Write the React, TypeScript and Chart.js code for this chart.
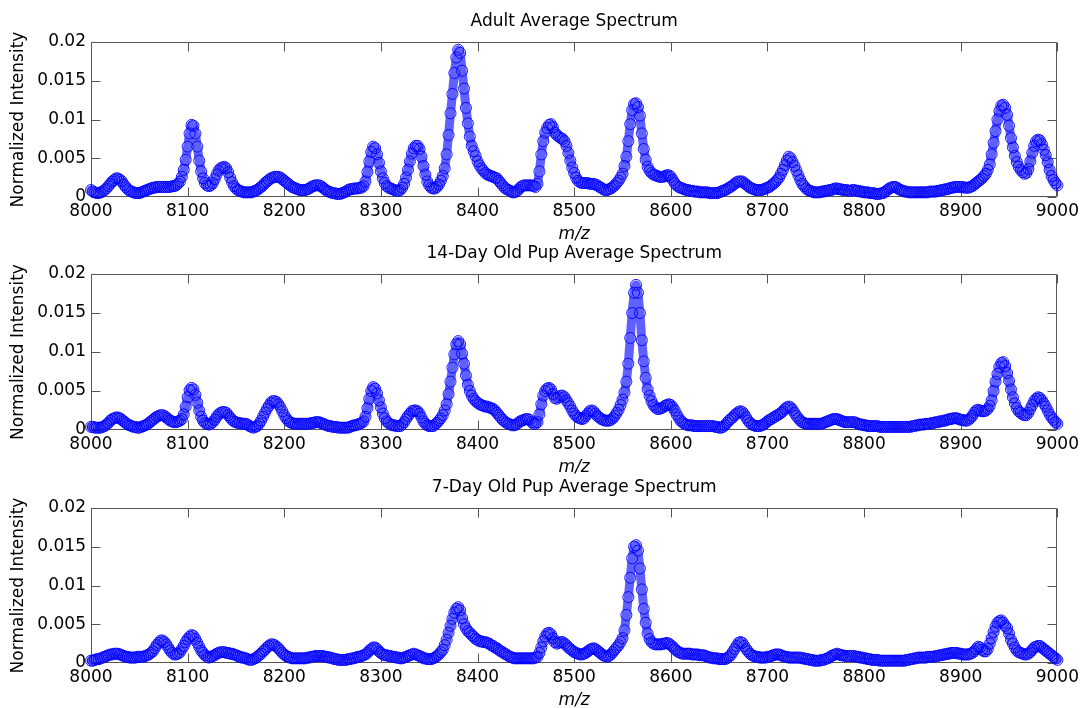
import React, { useEffect, useRef } from 'react';
import { Chart, registerables } from 'chart.js';

Chart.register(...registerables);
Chart.defaults.font.family = '"DejaVu Sans", Verdana, sans-serif';

// m/z sampling grid: first value and step between consecutive samples
const MZ_START = 8000;
const MZ_STEP = 2;

const X_TICKS = [8000, 8100, 8200, 8300, 8400, 8500, 8600, 8700, 8800, 8900, 9000];
const Y_TICKS = [0, 0.005, 0.01, 0.015, 0.02];
const Y_TICK_LABELS = ['0', '0.005', '0.01', '0.015', '0.02'];

const TITLES = ['Adult Average Spectrum', '14-Day Old Pup Average Spectrum', '7-Day Old Pup Average Spectrum'];
const X_LABEL = 'm/z';
const Y_LABEL = 'Normalized Intensity';

// Normalized intensity, in units of 1e-4, one value every 2 m/z from 8000 to 9000
const ADULT = [
  9, 7, 6, 5, 5, 6, 7, 9, 11, 14, 17, 20, 22, 24, 24, 22, 20, 16, 13, 10, 8, 7, 6, 5, 5,
  5, 6, 7, 8, 9, 10, 11, 12, 12, 13, 13, 13, 13, 13, 13, 13, 13, 14, 14, 15, 17, 20, 26, 35, 48,
  65, 82, 93, 92, 82, 65, 47, 33, 24, 18, 15, 14, 15, 18, 23, 29, 34, 37, 38, 39, 37, 32, 25, 19, 14,
  11, 9, 8, 7, 6, 6, 6, 6, 6, 7, 8, 9, 11, 13, 15, 18, 20, 22, 24, 25, 26, 26, 26, 25, 23,
  21, 19, 17, 15, 13, 12, 11, 10, 9, 9, 9, 9, 10, 11, 13, 14, 15, 15, 15, 14, 12, 10, 8, 7, 6,
  5, 5, 4, 4, 4, 5, 6, 7, 9, 10, 10, 11, 11, 11, 12, 12, 14, 20, 32, 46, 58, 65, 63, 55, 44,
  33, 24, 18, 14, 12, 11, 10, 9, 8, 8, 9, 12, 17, 25, 35, 46, 56, 63, 66, 66, 62, 52, 40, 29, 20,
  15, 12, 11, 11, 13, 16, 21, 27, 37, 55, 80, 108, 133, 160, 180, 190, 186, 163, 140, 115, 95, 78, 66, 59, 53,
  46, 41, 37, 34, 31, 29, 28, 27, 26, 25, 24, 21, 18, 15, 12, 10, 9, 8, 6, 6, 7, 9, 12, 14, 15,
  15, 15, 15, 15, 14, 13, 17, 33, 55, 72, 83, 89, 93, 94, 90, 83, 80, 78, 76, 75, 72, 66, 57, 47, 38,
  31, 25, 21, 19, 18, 18, 18, 18, 17, 17, 17, 16, 15, 13, 12, 10, 9, 9, 10, 11, 13, 15, 18, 21, 25,
  30, 40, 52, 72, 94, 112, 120, 121, 116, 105, 82, 62, 48, 39, 34, 31, 29, 28, 27, 26, 26, 26, 27, 28, 28,
  26, 22, 18, 15, 13, 12, 11, 10, 9, 9, 8, 8, 7, 7, 7, 6, 6, 6, 6, 6, 5, 5, 5, 5, 5,
  6, 7, 8, 9, 10, 12, 13, 15, 17, 19, 20, 20, 20, 18, 16, 14, 12, 11, 10, 9, 9, 9, 9, 10, 11,
  12, 13, 15, 17, 19, 22, 25, 30, 35, 41, 47, 52, 50, 45, 40, 34, 28, 22, 17, 14, 11, 9, 8, 7, 6,
  6, 6, 6, 7, 7, 8, 8, 9, 9, 10, 11, 11, 10, 10, 9, 9, 9, 8, 8, 9, 9, 8, 8, 7, 7,
  6, 6, 6, 5, 5, 5, 4, 4, 4, 5, 5, 7, 9, 11, 12, 13, 13, 12, 10, 9, 8, 7, 7, 6, 6,
  6, 6, 6, 6, 6, 6, 6, 6, 6, 7, 7, 7, 7, 8, 8, 9, 9, 10, 10, 11, 12, 12, 13, 13, 13,
  13, 13, 12, 12, 12, 13, 14, 16, 18, 20, 22, 24, 27, 30, 35, 42, 55, 70, 85, 100, 111, 118, 119, 115, 106,
  92, 76, 64, 53, 45, 39, 35, 32, 30, 31, 36, 46, 57, 66, 72, 74, 73, 68, 61, 54, 45, 35, 27, 22, 18,
  15,
];

const PUP14 = [
  4, 4, 3, 3, 3, 3, 4, 5, 7, 9, 12, 14, 15, 16, 16, 15, 13, 11, 9, 7, 6, 5, 4, 4, 3,
  3, 4, 5, 6, 7, 9, 11, 13, 15, 17, 18, 19, 19, 18, 16, 14, 12, 11, 10, 10, 11, 12, 14, 20, 30,
  42, 51, 54, 52, 45, 35, 25, 17, 12, 9, 8, 7, 8, 10, 13, 17, 20, 22, 23, 23, 22, 19, 16, 13, 11,
  10, 9, 9, 8, 8, 8, 7, 5, 4, 3, 4, 5, 8, 12, 17, 22, 27, 31, 35, 37, 37, 36, 33, 29, 24,
  19, 15, 12, 10, 9, 8, 8, 8, 8, 8, 8, 8, 8, 8, 9, 9, 10, 10, 10, 9, 8, 7, 6, 5, 5,
  4, 4, 4, 3, 3, 3, 3, 3, 3, 4, 5, 6, 6, 7, 8, 9, 11, 17, 28, 40, 50, 55, 53, 47, 38,
  29, 21, 15, 11, 9, 7, 6, 6, 5, 5, 5, 7, 10, 14, 18, 21, 24, 25, 25, 24, 21, 16, 11, 8, 6,
  5, 5, 5, 7, 9, 12, 15, 19, 25, 33, 46, 62, 80, 97, 110, 114, 110, 98, 85, 70, 58, 50, 44, 40, 37,
  35, 33, 32, 31, 30, 30, 29, 28, 27, 25, 22, 19, 16, 13, 11, 9, 8, 7, 6, 6, 7, 9, 11, 12, 13,
  14, 14, 13, 10, 8, 8, 10, 20, 33, 44, 50, 53, 54, 52, 46, 41, 40, 42, 44, 44, 42, 38, 34, 30, 25,
  21, 18, 16, 15, 14, 15, 18, 21, 24, 25, 24, 21, 18, 16, 14, 13, 12, 12, 12, 13, 15, 18, 22, 26, 32,
  39, 48, 62, 85, 118, 150, 176, 186, 176, 150, 115, 88, 67, 52, 44, 37, 32, 29, 27, 27, 28, 29, 31, 32, 33,
  32, 29, 25, 20, 16, 12, 10, 8, 7, 6, 6, 6, 5, 5, 5, 5, 5, 5, 5, 5, 5, 5, 5, 4, 4,
  3, 3, 4, 6, 9, 12, 14, 16, 19, 21, 23, 24, 23, 20, 16, 12, 9, 7, 6, 5, 5, 5, 6, 7, 9,
  11, 13, 14, 16, 17, 19, 20, 22, 24, 27, 29, 30, 29, 26, 22, 18, 15, 12, 10, 9, 8, 8, 8, 8, 8,
  8, 8, 8, 8, 9, 10, 11, 12, 13, 14, 14, 14, 13, 12, 11, 10, 10, 10, 10, 10, 10, 9, 8, 7, 7,
  6, 6, 5, 5, 5, 5, 5, 5, 4, 4, 4, 4, 4, 4, 4, 4, 4, 4, 4, 4, 4, 4, 4, 4, 4,
  5, 5, 6, 6, 7, 7, 7, 8, 8, 8, 9, 9, 10, 10, 11, 11, 12, 12, 13, 14, 14, 15, 15, 15, 14,
  13, 13, 12, 12, 13, 15, 18, 22, 25, 26, 25, 24, 24, 25, 27, 31, 38, 50, 62, 72, 81, 86, 87, 82, 73,
  63, 52, 42, 34, 28, 24, 22, 20, 19, 19, 22, 27, 32, 37, 40, 42, 41, 38, 34, 30, 25, 20, 16, 13, 10,
  8,
];

const PUP7 = [
  3, 3, 4, 5, 5, 6, 7, 8, 9, 10, 11, 11, 12, 12, 12, 11, 10, 9, 8, 8, 7, 7, 7, 7, 8,
  8, 8, 8, 9, 10, 11, 13, 15, 19, 23, 26, 29, 29, 27, 24, 20, 16, 13, 11, 11, 12, 14, 18, 22, 27,
  31, 34, 36, 35, 31, 26, 21, 16, 13, 10, 8, 7, 8, 9, 10, 12, 13, 14, 14, 14, 13, 13, 12, 12, 11,
  10, 9, 8, 7, 7, 6, 5, 4, 4, 5, 6, 8, 10, 12, 15, 17, 20, 22, 24, 24, 23, 21, 19, 16, 13,
  11, 9, 8, 7, 6, 6, 6, 6, 6, 6, 6, 6, 7, 7, 8, 8, 9, 9, 9, 9, 9, 8, 8, 7, 7,
  6, 5, 5, 4, 4, 4, 4, 4, 5, 5, 6, 6, 7, 8, 8, 9, 10, 11, 13, 16, 18, 20, 20, 18, 15,
  13, 11, 10, 10, 9, 9, 8, 8, 7, 7, 6, 6, 7, 8, 9, 10, 11, 12, 11, 10, 9, 8, 6, 6, 5,
  5, 5, 6, 7, 9, 11, 14, 17, 23, 30, 39, 48, 57, 65, 70, 72, 68, 58, 50, 45, 41, 39, 36, 34, 31,
  30, 28, 28, 27, 27, 26, 25, 23, 22, 20, 19, 17, 15, 14, 12, 11, 9, 8, 7, 6, 6, 6, 6, 6, 6,
  6, 6, 6, 6, 6, 7, 8, 13, 20, 28, 34, 38, 39, 37, 32, 27, 25, 26, 27, 27, 25, 23, 20, 18, 16,
  14, 13, 12, 11, 11, 12, 13, 15, 17, 18, 19, 18, 16, 14, 12, 10, 9, 8, 9, 11, 14, 17, 20, 23, 27,
  32, 42, 62, 85, 110, 135, 150, 152, 145, 122, 95, 70, 52, 38, 31, 27, 25, 24, 24, 24, 24, 25, 25, 26, 25,
  23, 21, 18, 16, 14, 13, 12, 12, 12, 12, 12, 11, 11, 11, 11, 10, 10, 10, 9, 8, 7, 7, 6, 6, 6,
  5, 5, 5, 5, 6, 8, 10, 14, 18, 22, 26, 27, 26, 22, 18, 15, 12, 10, 9, 8, 8, 7, 7, 7, 7,
  8, 8, 9, 10, 11, 11, 11, 10, 9, 8, 8, 7, 7, 7, 7, 7, 7, 7, 6, 6, 5, 5, 4, 4, 3,
  3, 3, 3, 4, 4, 5, 6, 7, 9, 10, 11, 12, 11, 10, 10, 9, 9, 9, 9, 9, 9, 8, 8, 7, 7,
  6, 6, 5, 5, 4, 4, 4, 4, 3, 3, 3, 3, 3, 3, 3, 3, 3, 3, 3, 3, 3, 3, 4, 4, 5,
  5, 6, 6, 7, 7, 7, 7, 7, 8, 8, 8, 8, 9, 9, 10, 10, 11, 11, 12, 12, 13, 13, 13, 13, 12,
  12, 11, 11, 11, 11, 12, 13, 15, 18, 21, 20, 17, 15, 15, 18, 25, 32, 40, 47, 52, 54, 55, 52, 48, 45,
  38, 30, 25, 20, 16, 14, 13, 12, 11, 11, 12, 14, 17, 20, 21, 22, 22, 20, 18, 16, 14, 12, 10, 8, 6,
  4,
];

const SERIES = [ADULT, PUP14, PUP7];

// layout (pixels on the page)
const PAGE_W = 1083;
const PLOT_RIGHT = 1058;
const PLOT_LEFT = 91;
const TOP_PAD = 42;
const X_AXIS_H = 48;
const PANELS = [
  { top: 42, bottom: 197 },
  { top: 274, bottom: 430 },
  { top: 508, bottom: 663 },
];
const FONT_SIZE = 17;
const AXIS_COLOR = '#555555';
const TICK_LEN = 9;
const BLUE = '#0000ff';

function Panel({ idx }: { idx: number }) {
  const ref = useRef<HTMLCanvasElement | null>(null);
  const { top, bottom } = PANELS[idx];
  const height = bottom - top + TOP_PAD + X_AXIS_H;

  useEffect(() => {
    const canvas = ref.current;
    if (!canvas) return;
    const values = SERIES[idx];
    const pts = values.map((v, i) => ({ x: MZ_START + i * MZ_STEP, y: v * 1e-4 }));
    const title = TITLES[idx];

    const framePlugin = {
      id: 'frame',
      beforeDatasetsDraw(chart: any) {
        const { ctx, chartArea } = chart;
        const xs = chart.scales.x;
        const ys = chart.scales.y;
        const l = Math.round(chartArea.left) + 0.5;
        const r = Math.round(chartArea.right) - 0.5;
        const t = Math.round(chartArea.top) + 0.5;
        const b = Math.round(chartArea.bottom) - 0.5;
        ctx.save();
        ctx.strokeStyle = AXIS_COLOR;
        ctx.lineWidth = 1;
        ctx.beginPath();
        ctx.rect(l, t, r - l, b - t);
        for (const v of X_TICKS) {
          const px = Math.round(xs.getPixelForValue(v)) + 0.5;
          ctx.moveTo(px, b);
          ctx.lineTo(px, b - TICK_LEN);
          ctx.moveTo(px, t);
          ctx.lineTo(px, t + TICK_LEN);
        }
        for (const v of Y_TICKS) {
          const py = Math.round(ys.getPixelForValue(v)) + 0.5;
          ctx.moveTo(l, py);
          ctx.lineTo(l + TICK_LEN, py);
          ctx.moveTo(r, py);
          ctx.lineTo(r - TICK_LEN, py);
        }
        ctx.stroke();
        ctx.restore();
      },
    };

    const titlePlugin = {
      id: 'panelTitle',
      afterDraw(chart: any) {
        const { ctx, chartArea } = chart;
        ctx.save();
        ctx.fillStyle = '#000';
        ctx.font = `${FONT_SIZE}px "DejaVu Sans", Verdana, sans-serif`;
        ctx.textAlign = 'center';
        ctx.textBaseline = 'middle';
        ctx.fillText(title, (chartArea.left + chartArea.right) / 2, chartArea.top - 20);
        ctx.restore();
      },
    };

    const chart = new Chart(canvas, {
      type: 'scatter',
      data: {
        datasets: [
          {
            data: pts,
            showLine: false,
            pointRadius: 5.5,
            pointBorderWidth: 0.9,
            pointBorderColor: BLUE,
            pointBackgroundColor: 'rgba(0,0,0,0)',
            clip: false,
          } as any,
          {
            data: pts,
            showLine: true,
            borderColor: 'rgba(20,20,255,0.68)',
            borderWidth: 9,
            borderJoinStyle: 'round',
            borderCapStyle: 'round',
            pointRadius: 0,
            tension: 0,
            clip: false,
          } as any,
        ],
      },
      options: {
        responsive: false,
        animation: false,
        devicePixelRatio: 1,
        events: [],
        layout: { padding: { top: TOP_PAD, right: PAGE_W - PLOT_RIGHT, left: 0, bottom: 0 } },
        plugins: {
          legend: { display: false },
          tooltip: { enabled: false },
          title: { display: false },
        },
        scales: {
          x: {
            type: 'linear',
            min: X_TICKS[0],
            max: X_TICKS[X_TICKS.length - 1],
            afterBuildTicks: (s: any) => {
              s.ticks = X_TICKS.map((v) => ({ value: v }));
            },
            afterFit: (s: any) => {
              s.height = X_AXIS_H;
            },
            grid: { display: false, drawTicks: false },
            border: { display: false },
            ticks: {
              color: '#000',
              font: { size: FONT_SIZE },
              padding: 4,
              maxRotation: 0,
              autoSkip: false,
              callback: (v: any) => String(v),
            },
            title: {
              display: true,
              text: X_LABEL,
              color: '#000',
              font: { size: FONT_SIZE, style: 'italic' },
              padding: { top: 0, bottom: 0 },
            },
          },
          y: {
            type: 'linear',
            min: Y_TICKS[0],
            max: Y_TICKS[Y_TICKS.length - 1],
            afterBuildTicks: (s: any) => {
              s.ticks = Y_TICKS.map((v) => ({ value: v }));
            },
            afterFit: (s: any) => {
              s.width = PLOT_LEFT;
            },
            grid: { display: false, drawTicks: false },
            border: { display: false },
            ticks: {
              color: '#000',
              font: { size: FONT_SIZE },
              padding: 5,
              autoSkip: false,
              callback: (v: any) => {
                const k = Y_TICKS.indexOf(v);
                return k >= 0 ? Y_TICK_LABELS[k] : '';
              },
            },
            title: {
              display: true,
              text: Y_LABEL,
              color: '#000',
              font: { size: FONT_SIZE },
              padding: { top: 8, bottom: 0 },
            },
          },
        },
      } as any,
      plugins: [framePlugin, titlePlugin],
    });
    return () => chart.destroy();
  }, [idx]);

  return (
    <canvas
      ref={ref}
      width={PAGE_W}
      height={height}
      style={{ position: 'absolute', left: 0, top: top - TOP_PAD, width: PAGE_W, height }}
    />
  );
}

export default function App() {
  return (
    <div style={{ position: 'absolute', left: 0, top: 0, width: PAGE_W, height: 708, background: '#fff' }}>
      {PANELS.map((_, i) => (
        <Panel key={i} idx={i} />
      ))}
    </div>
  );
}
